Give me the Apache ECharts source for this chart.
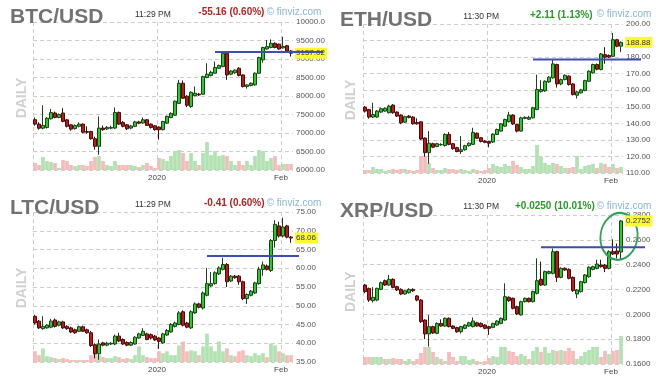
<!DOCTYPE html>
<html><head><meta charset="utf-8">
<script src="https://cdn.jsdelivr.net/npm/echarts@6/dist/echarts.min.js"></script>
<style>html,body{margin:0;padding:0;background:#fff}#c{width:663px;height:384px}</style>
</head><body><div id="c"></div>
<script>
// ---------- categories & tick labels ----------
const categories = [];
for (let d = 1; d <= 31; d++) categories.push('2019-12-' + String(d).padStart(2, '0'));
for (let d = 1; d <= 31; d++) categories.push('2020-01-' + String(d).padStart(2, '0'));
for (let d = 1; d <= 3; d++) categories.push('2020-02-' + String(d).padStart(2, '0'));
const dayBoundaries = categories.concat(['2020-02-04']);   // left edge of every day + right edge
const xTickLabels = { '2020-01-01': '2020', '2020-02-01': 'Feb' };
const gridLineDates = ['2019-12-01', '2020-01-01', '2020-02-01'];

// ---------- data: [open, close, low, high] ----------
const btcOHLC = [
[7360,7240,7200,7420],[7240,7130,7090,7290],[7130,7205,7100,7750],[7150,7400,7120,7430],[7385,7555,7360,7650],
[7540,7420,7400,7580],[7420,7500,7400,7530],[7540,7315,7290,7670],[7355,7180,7150,7380],[7220,7105,7060,7240],
[7120,7200,7090,7230],[7180,7240,7150,7290],[7240,7020,6990,7260],[7040,7020,6980,7180],[7040,6845,6820,7060],
[6845,6640,6550,6900],[6640,7133,6410,7450],[7133,7090,7060,7200],[7110,7150,7080,7190],[7130,7150,7100,7200],
[7133,7555,7110,7690],[7555,7240,7220,7580],[7287,7180,7150,7320],[7222,7115,7080,7240],[7133,7190,7100,7220],
[7180,7300,7160,7330],[7300,7265,7240,7330],[7270,7357,7250,7420],[7357,7205,7190,7380],[7240,7150,7120,7260],
[7195,7090,7060,7210],[7160,7090,6820,7180],[7090,7310,7070,7330],[7265,7450,7250,7470],[7420,7530,7400,7560],
[7480,7860,7460,7880],[7800,8345,7780,8435],[8345,7940,7920,8420],[7995,7750,7700,8020],[7715,8100,7680,8130],
[8010,8075,7990,8256],[8050,8030,8000,8080],[8050,8525,8030,8550],[8500,8590,8480,8885],[8555,8640,8530,8680],
[8615,8770,8600,8930],[8750,8825,8730,8850],[8795,9155,8780,9180],[9155,8570,8435,9170],[8590,8675,8560,8700],
[8630,8700,8600,8720],[8750,8555,8530,8780],[8570,8255,8230,8590],[8255,8300,8200,8320],[8285,8345,8260,8370],
[8300,8615,8280,8640],[8615,9040,8600,9060],[8975,9310,8900,9330],[9270,9335,9250,9515],[9310,9425,9290,9530],
[9425,9310,9290,9450],[9400,9270,9250,9420],[9300,9340,9280,9600],[9360,9217,9200,9380],[9217,9157.02,9065,9240]];
const btcVolume = [7,5,13,9,8,7,2,10,9,5,4,5,5,4,9,13,14,9,5,4,9,5,5,5,5,4,3,5,7,4,2,12,11,9,14,19,20,17,9,17,9,5,17,28,15,19,14,15,14,9,5,9,5,9,5,14,20,19,9,12,14,5,6,6,6];

const ethOHLC = [
[149.8,147.4,146.5,150.5],[148.3,143.8,142.8,148.8],[143.8,145.3,143.2,152.4],[143.8,147.4,143.3,148.0],[146.8,148.8,146.2,149.5],
[147.4,149.0,147.0,149.6],[146.4,150.4,146.0,151.2],[151.0,146.4,145.8,151.6],[146.8,144.4,143.8,147.2],[145.0,140.3,139.5,145.5],
[140.7,144.0,140.2,144.6],[144.4,143.6,143.0,145.0],[143.8,139.7,139.2,144.3],[140.5,139.7,139.2,143.0],[140.9,130.5,130.0,141.4],
[131.1,122.3,119.8,131.5],[122.3,128.0,115.6,135.3],[127.7,125.6,125.0,128.3],[126.0,127.7,125.6,128.2],[127.0,127.2,126.5,128.0],
[126.6,133.3,126.0,134.0],[133.3,127.3,126.8,134.8],[127.7,124.7,124.0,128.2],[125.3,123.0,122.5,125.8],[123.0,124.0,121.5,132.3],
[124.0,126.5,123.5,127.0],[126.5,128.0,126.0,128.5],[127.3,134.5,127.0,137.3],[134.0,131.0,130.5,134.5],[131.3,129.0,128.5,131.8],
[129.3,128.5,128.0,129.8],[129.0,128.0,125.5,129.5],[128.7,133.5,128.2,134.0],[133.3,136.3,133.0,136.8],[135.3,139.7,135.0,140.2],
[138.3,142.3,138.0,142.8],[141.0,145.0,140.5,147.0],[145.0,139.6,139.0,145.5],[139.3,135.3,134.5,139.8],[135.3,143.3,135.0,144.0],
[143.0,143.6,142.5,144.2],[142.5,143.6,142.0,144.5],[143.3,149.4,143.0,150.0],[148.3,160.4,148.0,169.4],[159.2,160.4,158.5,166.0],
[159.6,165.4,159.0,166.0],[165.0,167.9,164.5,168.5],[167.5,175.9,167.0,178.5],[175.5,163.8,161.6,176.0],[163.8,166.4,163.0,167.0],
[166.4,169.0,166.0,169.6],[168.5,163.4,162.8,169.0],[163.8,157.4,156.8,164.3],[157.0,159.0,155.0,159.6],[158.4,160.2,158.0,160.8],
[159.8,165.8,159.4,166.3],[165.4,171.5,165.0,172.0],[170.5,175.5,170.0,176.0],[175.5,172.7,172.0,176.2],[172.5,181.9,172.0,182.5],
[181.5,179.9,176.0,186.0],[181.0,180.0,179.5,181.6],[180.5,190.5,180.0,194.6],[190.5,186.6,186.0,191.0],[186.6,188.88,183.0,189.5]];
const ethVolume = [3,3,6,4,4,2,3,4,3,4,4,3,2,3,17,17,10,5,3,3,5,4,4,3,4,3,2,4,3,2,3,5,9,7,6,9,7,12,8,6,4,4,7,28,16,10,8,10,9,7,5,5,6,17,4,7,8,9,5,10,9,6,9,5,6];

const ltcOHLC = [
[47.2,45.4,45.0,47.6],[45.9,44.1,43.8,46.2],[43.9,44.5,43.6,47.2],[44.1,44.8,43.9,45.1],[44.3,45.9,44.0,46.5],
[46.2,44.5,44.2,46.6],[44.8,45.7,44.5,46.0],[45.7,44.1,43.8,46.0],[44.5,43.9,43.6,44.8],[44.1,43.0,42.7,44.4],
[43.6,42.8,42.5,43.9],[43.2,44.4,43.0,44.7],[44.4,43.2,43.0,44.7],[43.6,42.8,42.5,43.9],[42.8,39.4,39.0,43.3],
[39.6,37.2,36.0,40.0],[37.2,39.8,35.6,41.0],[40.1,39.5,39.2,40.4],[39.5,40.0,39.2,40.4],[39.8,40.0,39.5,40.3],
[39.8,41.9,39.5,42.3],[41.9,40.6,40.3,42.8],[41.0,39.8,39.5,41.3],[40.2,39.5,39.2,40.5],[39.5,40.2,39.3,40.5],
[39.8,41.6,39.6,41.9],[41.4,42.5,41.2,42.8],[42.1,43.2,41.9,44.0],[42.5,41.0,40.8,42.8],[42.3,41.4,41.0,42.6],
[41.9,40.9,40.6,42.2],[41.4,40.5,38.5,41.7],[40.1,42.5,39.8,42.8],[42.2,43.4,42.0,43.8],[43.0,45.0,42.8,45.4],
[44.5,45.4,44.2,45.8],[45.0,48.1,44.8,48.6],[48.4,44.8,44.5,48.8],[45.4,44.3,44.0,45.7],[44.1,48.4,43.8,48.8],
[48.1,50.5,47.8,50.9],[50.5,49.6,49.3,50.8],[49.4,53.4,49.0,53.8],[52.8,55.9,52.5,60.1],[55.3,55.9,55.0,59.0],
[55.9,58.8,55.6,59.2],[58.5,60.1,58.2,60.5],[59.7,61.0,59.4,62.8],[61.0,56.4,55.0,61.4],[56.6,57.9,56.3,58.2],
[57.9,57.5,57.2,58.2],[57.9,56.4,55.6,58.2],[56.4,51.9,51.5,56.7],[51.9,53.0,50.5,53.3],[52.8,53.9,52.5,54.2],
[53.4,56.1,53.1,56.4],[55.9,59.7,55.6,60.4],[59.7,60.9,58.0,61.8],[60.6,59.7,59.4,61.0],[59.4,67.4,59.0,67.8],
[67.4,71.7,65.5,72.8],[71.3,68.6,68.2,72.4],[68.6,71.0,68.2,73.5],[71.3,68.3,68.0,71.6],[68.3,68.06,66.8,68.6]];
const ltcVolume = [11,7,14,6,5,4,3,4,3,2,2,2,2,2,7,11,7,5,4,4,6,5,3,4,3,7,16,7,5,4,4,11,9,11,7,7,17,21,11,12,11,7,16,29,16,11,21,11,14,7,6,11,12,7,6,9,7,9,5,19,17,11,9,7,7];

const xrpOHLC = [
[0.2236,0.2183,0.2170,0.2245],[0.2209,0.2115,0.2100,0.2215],[0.2110,0.2137,0.2095,0.2220],[0.2115,0.2209,0.2105,0.2215],[0.2201,0.2255,0.2195,0.2265],
[0.2271,0.2236,0.2228,0.2280],[0.2236,0.2282,0.2230,0.2318],[0.2282,0.2217,0.2210,0.2290],[0.2223,0.2196,0.2188,0.2230],[0.2201,0.2164,0.2155,0.2210],
[0.2164,0.2190,0.2158,0.2198],[0.2174,0.2201,0.2168,0.2210],[0.2201,0.2190,0.2180,0.2210],[0.2148,0.2115,0.2105,0.2155],[0.2115,0.1941,0.1930,0.2122],
[0.1954,0.1842,0.1800,0.1960],[0.1842,0.1901,0.1740,0.1994],[0.1901,0.1850,0.1842,0.1908],[0.1847,0.1927,0.1840,0.1935],[0.1927,0.1906,0.1900,0.1960],
[0.1906,0.1968,0.1900,0.1975],[0.1968,0.1901,0.1895,0.1975],[0.1906,0.1887,0.1880,0.1912],[0.1893,0.1860,0.1852,0.1900],[0.1860,0.1901,0.1845,0.1908],
[0.1887,0.1914,0.1880,0.1920],[0.1906,0.1932,0.1900,0.1940],[0.1901,0.1946,0.1895,0.1975],[0.1932,0.1906,0.1900,0.1940],[0.1927,0.1901,0.1895,0.1935],
[0.1914,0.1887,0.1880,0.1920],[0.1901,0.1887,0.1835,0.1908],[0.1895,0.1927,0.1888,0.1932],[0.1914,0.1946,0.1908,0.1952],[0.1927,0.1968,0.1920,0.1975],
[0.1954,0.2142,0.1948,0.2250],[0.2137,0.2110,0.2100,0.2145],[0.2129,0.2048,0.2040,0.2135],[0.2062,0.2003,0.1995,0.2070],[0.1995,0.2102,0.1990,0.2110],
[0.2102,0.2129,0.2095,0.2135],[0.2129,0.2102,0.2095,0.2135],[0.2102,0.2183,0.2095,0.2190],[0.2169,0.2271,0.2160,0.2451],[0.2282,0.2236,0.2228,0.2425],
[0.2236,0.2344,0.2230,0.2352],[0.2330,0.2344,0.2322,0.2352],[0.2330,0.2505,0.2322,0.2530],[0.2505,0.2298,0.2260,0.2512],[0.2298,0.2371,0.2290,0.2378],
[0.2371,0.2357,0.2350,0.2378],[0.2362,0.2290,0.2282,0.2370],[0.2298,0.2191,0.2182,0.2305],[0.2164,0.2196,0.2130,0.2203],[0.2183,0.2263,0.2175,0.2270],
[0.2255,0.2317,0.2248,0.2325],[0.2303,0.2379,0.2295,0.2386],[0.2362,0.2384,0.2355,0.2392],[0.2370,0.2405,0.2362,0.2440],[0.2397,0.2384,0.2376,0.2440],
[0.2397,0.2370,0.2340,0.2405],[0.2370,0.2505,0.2362,0.2515],[0.2505,0.2486,0.2478,0.2604],[0.2510,0.2486,0.2450,0.2570],[0.2502,0.2752,0.2440,0.2760]];
const xrpVolume = [7,7,7,7,7,5,5,6,5,5,3,5,3,5,11,17,17,12,7,5,3,12,7,3,8,8,4,5,3,2,3,6,8,7,17,17,13,12,8,10,8,5,13,17,12,17,11,14,13,14,13,16,13,5,8,12,14,17,17,7,13,10,13,14,28];

// ---------- per-panel labels / scale values ----------
const pairNames = ['BTC/USD', 'ETH/USD', 'LTC/USD', 'XRP/USD'];
const timeLabels = ['11:29 PM', '11:30 PM', '11:29 PM', '11:30 PM'];
const changeLabels = ['-55.16 (0.60%)', '+2.11 (1.13%)', '-0.41 (0.60%)', '+0.0250 (10.01%)'];
const changeUp = [false, true, false, true];
const lastPrices = [9157.02, 188.88, 68.06, 0.2752];
const yMins = [6000, 110, 35, 0.16];
const yMaxs = [10000, 200, 75, 0.28];
const yIntervals = [500, 10, 5, 0.02];
const yDecimals = [2, 2, 2, 4];
// resistance lines: [startIndex, endIndex, level]
const resistance = [[45, 72, 9190], [42, 69, 178.6], [43, 66, 63.3], [44, 70, 0.2540]];
// highlight ellipse on XRP: [index, level]
const xrpHighlight = [64, 0.2628];

// ---------- layout / style ----------
const FONT = "'Liberation Sans', Arial, sans-serif";
const origins = [[0, 0], [330, 0], [0, 190], [330, 190]];
const grids = [
  { left: 33, top: 22, width: 260, height: 148 },
  { left: 363, top: 24, width: 260, height: 149 },
  { left: 33, top: 212, width: 260, height: 150 },
  { left: 363, top: 215, width: 260, height: 149 }
];
const titleY = [17.5, 20, 18.2, 20.8];
const timePos = [[135, 14.3], [133.3, 16.7], [135, 15], [133.3, 16.7]];
const changePos = [[198.3, 12.7], [200, 15], [204, 13.3], [185, 16]];
const finvizPos = [[266.7, 12], [266.7, 14.5], [266.7, 13.3], [266.7, 16]];
const dailyPos = [[21.7, 98], [20.7, 100], [21.7, 98], [20.7, 101.7]];

const UP = '#22d022', DOWN = '#c81414', UPB = '#1f3f1f', DOWNB = '#3f1010';
const VUP = '#b2e2b2', VDOWN = '#f5bcbc';
const GRIDC = '#cdcdcd';

const ohlcs = [btcOHLC, ethOHLC, ltcOHLC, xrpOHLC];
const vols = [btcVolume, ethVolume, ltcVolume, xrpVolume];

const xAxes = [], yAxes = [], series = [], graphics = [];
for (let p = 0; p < 4; p++) {
  // band axis that places the candles (hidden)
  xAxes.push({ type: 'category', gridIndex: p, data: categories, boundaryGap: true, show: false, position: 'top' });
  // day-boundary axis: month grid lines and month labels
  xAxes.push({
    type: 'category', gridIndex: p, data: dayBoundaries, boundaryGap: false, position: 'bottom',
    axisLine: { show: false }, axisTick: { show: false },
    axisLabel: {
      interval: (i, v) => xTickLabels[v] !== undefined,
      formatter: v => xTickLabels[v] || '',
      fontSize: 8, color: '#444', margin: 4, fontFamily: FONT
    },
    splitLine: {
      show: true,
      interval: (i, v) => gridLineDates.indexOf(v) >= 0,
      lineStyle: { color: GRIDC, type: [4, 3], width: 1 }
    }
  });
  yAxes.push({
    type: 'value', gridIndex: p, position: 'right', min: yMins[p], max: yMaxs[p], interval: yIntervals[p],
    axisLine: { show: false }, axisTick: { show: false },
    axisLabel: {
      fontSize: 8, color: '#555', margin: 3, fontFamily: FONT, showMaxLabel: true, showMinLabel: true,
      formatter: v => v.toFixed(yDecimals[p]),
      width: 32, overflow: 'truncate', ellipsis: ''
    },
    splitLine: { show: true, lineStyle: { color: GRIDC, type: [4, 3], width: 1 } }
  });
  yAxes.push({
    type: 'value', gridIndex: p, show: false, position: 'left', min: 0, max: v => v.max * 5.3,
    splitLine: { show: false }
  });
  const ohlc = ohlcs[p];
  series.push({
    type: 'bar', xAxisIndex: 2 * p, yAxisIndex: 2 * p + 1, barWidth: '92%', z: 1, silent: true,
    data: vols[p].map((v, i) => ({ value: v, itemStyle: { color: ohlc[i][1] >= ohlc[i][0] ? VUP : VDOWN } }))
  });
  const cs = {
    type: 'candlestick', xAxisIndex: 2 * p, yAxisIndex: 2 * p, z: 2, silent: true,
    barWidth: 3.4,
    itemStyle: { color: UP, color0: DOWN, borderColor: UPB, borderColor0: DOWNB, borderWidth: 1 },
    data: ohlc
  };
  if (p === 3) {
    cs.markPoint = {
      silent: true, animation: false,
      data: [{ coord: xrpHighlight, symbol: 'circle', symbolSize: [37, 47], symbolRotate: -8, symbolOffset: [-2, 0],
        itemStyle: { color: 'rgba(0,0,0,0)', borderColor: '#35a05a', borderWidth: 2 }, label: { show: false } }]
    };
  }
  series.push(cs);

  const [ox, oy] = origins[p];
  graphics.push({ type: 'text', x: ox + 10, y: oy + titleY[p], silent: true,
    style: { text: pairNames[p], font: 'bold 21px ' + FONT, fill: '#727272', verticalAlign: 'middle' } });
  graphics.push({ type: 'text', x: ox + timePos[p][0], y: oy + timePos[p][1], silent: true,
    style: { text: timeLabels[p], font: '8.5px ' + FONT, fill: '#333', verticalAlign: 'middle' } });
  graphics.push({ type: 'text', x: ox + changePos[p][0], y: oy + changePos[p][1], silent: true,
    style: { text: changeLabels[p], font: 'bold 10px ' + FONT, fill: changeUp[p] ? '#2a9a2a' : '#b82222', verticalAlign: 'middle' } });
  graphics.push({ type: 'text', x: ox + finvizPos[p][0], y: oy + finvizPos[p][1], silent: true,
    style: { text: '\u00a9 finviz.com', font: '10px ' + FONT, fill: '#8ab6d6', verticalAlign: 'middle', lineHeight: 10 } });
  graphics.push({ type: 'text', x: ox + dailyPos[p][0], y: oy + dailyPos[p][1], rotation: Math.PI / 2, silent: true,
    style: { text: 'DAILY', font: 'bold 14px ' + FONT, fill: '#d0d0d0', align: 'center', verticalAlign: 'middle' } });
}

const chart = echarts.init(document.getElementById('c'), null, { renderer: 'canvas' });
chart.setOption({
  animation: false,
  backgroundColor: '#fff',
  grid: grids,
  xAxis: xAxes,
  yAxis: yAxes,
  series: series
});

// resistance lines and last-price tags, positioned through the chart's own scales
for (let p = 0; p < 4; p++) {
  const finder = { xAxisIndex: 2 * p, yAxisIndex: 2 * p };
  const a = chart.convertToPixel(finder, [0, yMins[p]]);
  const b = chart.convertToPixel(finder, [1, yMins[p]]);
  const step = b[0] - a[0];
  const xAt = k => a[0] + k * step;
  const yAt = v => chart.convertToPixel(finder, [0, v])[1];
  const r = resistance[p];
  const yr = yAt(r[2]);
  graphics.push({ type: 'text', z: 90, silent: true,
    x: xAt(categories.length - 0.5) + 2, y: yAt(lastPrices[p]),
    style: { text: lastPrices[p].toFixed(yDecimals[p]), font: '8px ' + FONT, fill: '#333',
      backgroundColor: '#fbfb2e', padding: [2, 2, 1, 1], verticalAlign: 'middle' } });
  graphics.push({ type: 'line', z: 100, silent: true,
    shape: { x1: xAt(r[0]), y1: yr, x2: xAt(r[1]), y2: yr },
    style: { stroke: '#3e4db0', lineWidth: 2 } });
}
chart.setOption({ graphic: { elements: graphics } });
</script></body></html>
